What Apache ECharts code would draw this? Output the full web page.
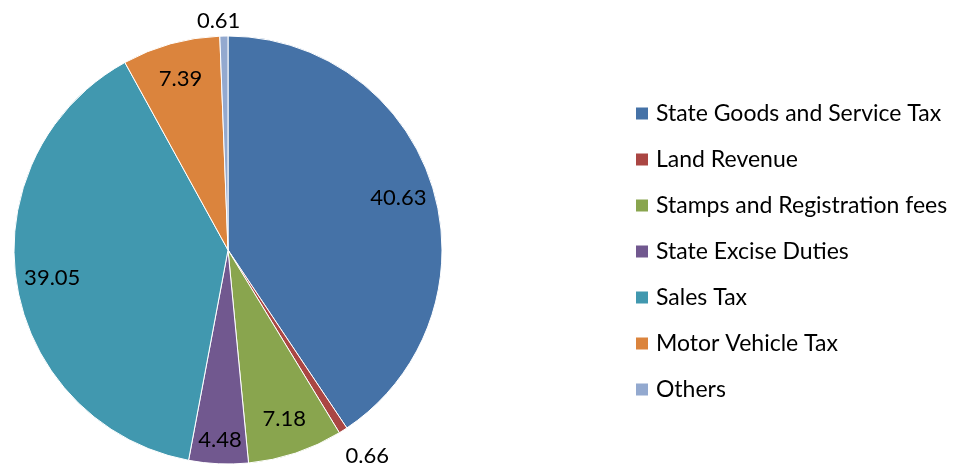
<!DOCTYPE html>
<html>
<head>
    <meta charset="UTF-8">
    <script src="https://cdn.jsdelivr.net/npm/echarts@6/dist/echarts.min.js"></script>
    <style>
    html, body { margin: 0; padding: 0; background: #fff; }
    #chart { width: 959px; height: 469px; }
    </style>
</head>
<body>
    <div id="chart"></div>
    <script type="text/javascript">
    var categories = ['State Goods and Service Tax', 'Land Revenue', 'Stamps and Registration fees',
        'State Excise Duties', 'Sales Tax', 'Motor Vehicle Tax', 'Others'];
    var values = [40.63, 0.66, 7.18, 4.48, 39.05, 7.39, 0.61];
    var colors = ['#4572A7', '#AA4643', '#89A54E', '#71588F', '#4198AF', '#DB843D', '#93A9CF'];
    // small slices get their label outside
    var outsideLabels = ['Land Revenue', 'Others'];

    var font = 'Lato, "Open Sans", sans-serif';

    var pieData = categories.map(function(name, i) {
        return { name: name, value: values[i], itemStyle: { color: colors[i] } };
    });

    var labelData = categories.map(function(name, i) {
        var outside = outsideLabels.indexOf(name) >= 0;
        return {
            name: name,
            value: values[i],
            label: { position: outside ? 'outside' : 'inside' }
        };
    });

    var chart = echarts.init(document.getElementById('chart'));
    chart.setOption({
        animation: false,
        legend: {
            orient: 'vertical',
            left: 634,
            top: 102,
            padding: 0,
            itemWidth: 14,
            itemHeight: 14,
            itemGap: 23,
            icon: 'rect',
            data: categories,
            textStyle: { fontFamily: font, fontSize: 23, color: '#000', lineHeight: 23, padding: [0, 0, 0, 2] }
        },
        series: [{
            type: 'pie',
            center: [228, 250],
            radius: [0, 214],
            startAngle: 90,
            clockwise: true,
            silent: true,
            data: pieData,
            itemStyle: { borderColor: '#fff', borderWidth: 1 },
            label: { show: false },
            labelLine: { show: false }
        }, {
            // transparent ring only used to place the value labels
            type: 'pie',
            center: [228, 250],
            radius: [136, 214],
            startAngle: 90,
            clockwise: true,
            silent: true,
            data: labelData,
            itemStyle: { color: 'transparent', borderWidth: 0 },
            label: {
                show: true,
                formatter: function(p) { return p.value.toFixed(2); },
                fontFamily: font,
                fontSize: 22,
                color: '#000'
            },
            labelLine: { show: false, length: 15, length2: 0 },
            labelLayout: function(params) {
                var name = categories[params.dataIndex];
                if (name === 'Land Revenue') {
                    return { align: 'center', verticalAlign: 'middle', dx: 11, dy: 13 };
                }
                if (name === 'Others') {
                    return { align: 'center', verticalAlign: 'middle' };
                }
                if (name === 'State Excise Duties') {
                    return { dy: 12 };
                }
            }
        }]
    });
    </script>
</body>
</html>
